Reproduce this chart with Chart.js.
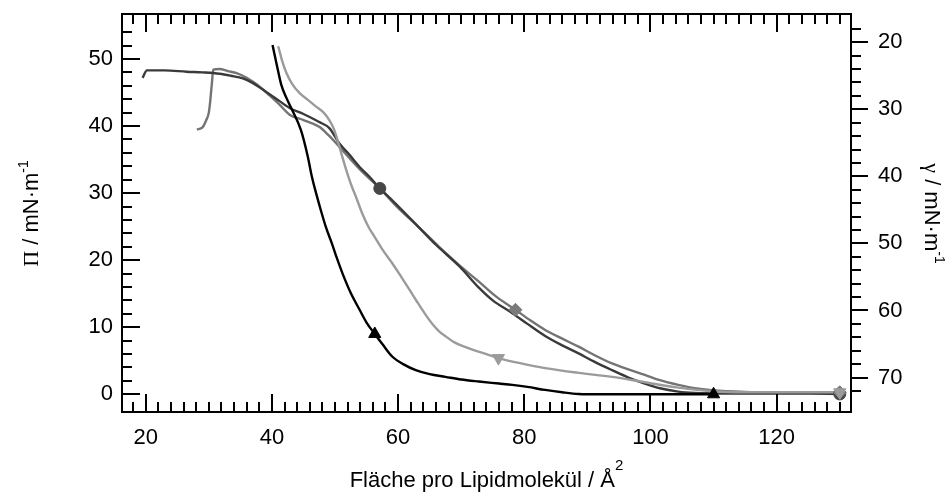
<!DOCTYPE html>
<html>
<head>
<meta charset="utf-8">
<script src="https://cdn.jsdelivr.net/npm/chart.js@4.4.1/dist/chart.umd.min.js"></script>
<style>
  html, body { margin: 0; padding: 0; background: #fff; }
  #wrap { width: 952px; height: 497px; }
</style>
</head>
<body>
<div id="wrap"><canvas id="iso" width="952" height="497"></canvas></div>
<script>
// Pi-A isotherms of four lipid films, surface tension on the right axis
const GAMMA0 = 72.5;               // gamma = GAMMA0 - Pi
const X_MIN = 16.24, X_MAX = 131.78;
const PI_MIN = -2.64, PI_MAX = 56.71;

const xTicks = [20, 40, 60, 80, 100, 120];
const piTicks = [0, 10, 20, 30, 40, 50];
const gammaTicks = [20, 30, 40, 50, 60, 70];

// black, triangle up
const areaA = [40.1, 40.8, 41.5, 42.3, 43.1, 44.6, 45.7, 46.3, 47.0, 47.8, 48.6, 49.5, 50.3, 51.2, 52.5, 53.9, 55.0, 56.3, 57.5, 59.1, 60.8, 62.8, 65.0, 67.5, 70.0, 72.8, 76.0, 78.1, 80.5, 83.3, 86.0, 88.6, 92.0, 96.0, 100.0, 105.0, 110.0];
const piA   = [52.1, 49.0, 46.1, 44.2, 42.6, 39.4, 35.4, 32.6, 30.0, 27.3, 24.8, 22.5, 20.3, 18.0, 15.1, 12.6, 10.7, 9.0, 7.5, 5.6, 4.5, 3.6, 3.0, 2.6, 2.2, 1.9, 1.6, 1.4, 1.1, 0.65, 0.3, 0.05, 0.0, 0.0, 0.0, 0.0, 0.0];
const markA = [[56.3, 9.0], [110.0, 0.0]];

// light grey, triangle down
const areaB = [41.0, 41.6, 42.3, 43.2, 44.4, 45.7, 47.0, 48.2, 49.1, 49.8, 50.4, 51.1, 51.8, 52.5, 53.3, 54.3, 55.4, 56.2, 57.5, 59.1, 60.5, 61.8, 63.0, 64.4, 65.5, 66.5, 67.6, 69.0, 70.5, 72.0, 74.0, 75.9, 79.5, 83.3, 88.6, 93.9, 99.1, 104.4, 109.7, 115.0, 120.0, 125.0, 130.0];
const piB   = [51.9, 49.8, 47.9, 46.3, 44.9, 43.9, 42.9, 42.0, 40.9, 39.6, 37.9, 35.6, 33.4, 31.4, 29.5, 27.0, 24.8, 23.6, 21.6, 19.5, 17.5, 15.6, 13.8, 11.8, 10.4, 9.4, 8.6, 7.7, 7.1, 6.6, 6.0, 5.4, 4.6, 3.9, 3.2, 2.6, 1.8, 1.0, 0.45, 0.3, 0.3, 0.3, 0.3];
const markB = [[75.9, 5.4], [130.0, 0.3]];

// dark grey, circle
const areaC = [19.5, 20.2, 23.0, 26.5, 29.0, 31.7, 33.5, 35.4, 37.0, 38.6, 40.5, 42.8, 45.0, 47.5, 49.1, 50.7, 52.3, 53.9, 55.5, 57.1, 59.0, 61.0, 63.3, 66.0, 69.7, 72.8, 75.0, 78.1, 80.5, 83.3, 86.0, 88.6, 91.0, 93.9, 96.5, 99.1, 101.5, 104.4, 107.0, 109.7, 115.0, 120.0, 125.0, 130.0];
const piC   = [47.2, 48.3, 48.3, 48.1, 48.0, 47.8, 47.5, 47.1, 46.4, 45.4, 44.2, 42.7, 41.8, 40.6, 39.7, 37.4, 35.7, 33.9, 32.4, 30.7, 29.0, 27.1, 24.9, 22.3, 19.1, 15.9, 14.0, 12.1, 10.5, 8.7, 7.3, 6.1, 4.9, 3.6, 2.5, 1.6, 0.9, 0.4, 0.2, 0.15, 0.1, 0.1, 0.1, 0.05];
const markC = [[57.1, 30.7], [130.0, 0.05]];

// medium grey, diamond
const areaD = [28.1, 29.0, 29.6, 30.0, 30.2, 30.5, 30.7, 31.7, 33.0, 34.4, 36.0, 37.0, 38.3, 39.6, 41.2, 42.8, 45.0, 47.5, 49.0, 50.7, 52.5, 54.5, 57.1, 60.0, 63.3, 66.5, 70.0, 72.8, 75.5, 78.6, 81.0, 83.3, 86.0, 88.6, 91.0, 93.9, 96.5, 99.1, 101.5, 104.4, 107.0, 109.7, 115.0, 120.0, 125.0, 130.0];
const piD   = [39.5, 39.8, 40.9, 42.0, 43.5, 46.5, 48.4, 48.5, 48.2, 47.9, 47.2, 46.6, 45.7, 44.6, 43.2, 41.7, 40.9, 39.9, 38.6, 36.9, 35.0, 33.0, 30.7, 27.8, 24.9, 22.0, 19.0, 16.8, 14.6, 12.6, 11.0, 9.6, 8.3, 7.1, 5.9, 4.6, 3.7, 2.9, 2.1, 1.4, 0.9, 0.6, 0.35, 0.3, 0.3, 0.3];
const markD = [[78.6, 12.6], [130.0, 0.3]];

const SANS = '"Liberation Sans", Arial, Helvetica, sans-serif';
const SERIF = '"Liberation Serif", "Times New Roman", serif';

const toPts = (xs, ys) => xs.map((x, i) => ({ x: x, y: ys[i] }));
const markPts = m => m.map(p => ({ x: p[0], y: p[1] }));

function curve(xs, ys, color, order) {
  return {
    data: toPts(xs, ys), showLine: true, borderColor: color, borderWidth: 2.4,
    pointRadius: 0, cubicInterpolationMode: 'monotone', order: order
  };
}
function marks(m, color, style, rot, r) {
  return {
    data: markPts(m), showLine: false, pointStyle: style, rotation: rot,
    pointRadius: r, backgroundColor: color, borderColor: color, borderWidth: 1, order: 0
  };
}

// draw a piece of text made of parts with their own font / raise
function drawRich(ctx, parts, cx, cy, angle) {
  ctx.save();
  ctx.translate(cx, cy);
  ctx.rotate(angle);
  ctx.textBaseline = 'alphabetic';
  ctx.textAlign = 'left';
  ctx.fillStyle = '#000';
  let w = 0;
  parts.forEach(p => { ctx.font = p.font; p.w = ctx.measureText(p.t).width; w += p.w; });
  let x = -w / 2;
  parts.forEach(p => { ctx.font = p.font; ctx.fillText(p.t, x, -(p.rise || 0)); x += p.w; });
  ctx.restore();
}

// keep the plot box where it is: no extra room for half labels
function fixBox(s, key, size) {
  s[key] = size;
  s.paddingTop = 0; s.paddingBottom = 0; s.paddingLeft = 0; s.paddingRight = 0;
}

// frame, inward ticks (outward on the gamma axis) and axis titles
const framePlugin = {
  id: 'frame',
  afterDraw(chart) {
    const { ctx, chartArea: a, scales } = chart;
    ctx.save();
    ctx.strokeStyle = '#000';
    ctx.lineWidth = 2;
    ctx.strokeRect(a.left, a.top, a.right - a.left, a.bottom - a.top);
    ctx.beginPath();
    for (let v = 18; v <= 130; v += 2) {
      const px = Math.round(scales.x.getPixelForValue(v));
      const len = v % 20 === 0 ? 18 : 10;
      ctx.moveTo(px, a.bottom); ctx.lineTo(px, a.bottom - len);
      ctx.moveTo(px, a.top); ctx.lineTo(px, a.top + len);
    }
    for (let v = 0; v <= 54; v += 2) {
      const py = Math.round(scales.y.getPixelForValue(v));
      const len = v % 10 === 0 ? 18 : 10;
      ctx.moveTo(a.left, py); ctx.lineTo(a.left + len, py);
    }
    for (let v = 18; v <= 72; v += 2) {
      const py = Math.round(scales.y2.getPixelForValue(v));
      const len = v % 10 === 0 ? 17 : 10;
      ctx.moveTo(a.right, py); ctx.lineTo(a.right + len, py);
    }
    ctx.stroke();
    ctx.restore();

    const f22 = '22px ' + SANS, s22 = '22px ' + SERIF, f14 = '14px ' + SANS;
    drawRich(ctx, [{ t: 'Fläche pro Lipidmolekül / Å', font: f22 }, { t: '2', font: '15px ' + SANS, rise: 17 }],
      (a.left + a.right) / 2, 487, 0);
    drawRich(ctx, [{ t: 'Π', font: s22 }, { t: ' / mN·m', font: f22 }, { t: '-1', font: f14, rise: 10 }],
      37.5, 213.5, -Math.PI / 2);
    drawRich(ctx, [{ t: 'γ', font: s22 }, { t: ' / mN·m', font: f22 }, { t: '-1', font: f14, rise: 10 }],
      925, 213.5, Math.PI / 2);
  }
};

const tickFont = { family: SANS, size: 22 };

new Chart(document.getElementById('iso'), {
  type: 'scatter',
  data: {
    datasets: [
      curve(areaA, piA, '#000000', 1),
      curve(areaB, piB, '#9b9b9b', 2),
      curve(areaC, piC, '#3a3a3a', 3),
      curve(areaD, piD, '#747474', 4),
      marks(markA, '#000000', 'triangle', 0, 7),
      marks(markB, '#9b9b9b', 'triangle', 180, 7),
      marks(markD, '#7a7a7a', 'rectRot', 0, 6.5),
      marks(markC, '#474747', 'circle', 0, 6)
    ]
  },
  options: {
    responsive: false,
    animation: false,
    layout: { padding: { top: 14, left: 0, right: 0, bottom: 0 } },
    plugins: { legend: { display: false }, tooltip: { enabled: false } },
    scales: {
      x: {
        type: 'linear', position: 'bottom', min: X_MIN, max: X_MAX,
        afterBuildTicks: s => { s.ticks = xTicks.map(v => ({ value: v })); },
        afterFit: s => fixBox(s, 'height', 85),
        grid: { display: false, drawTicks: false },
        border: { display: false },
        ticks: { color: '#000', font: tickFont, padding: 13, maxRotation: 0, autoSkip: false }
      },
      y: {
        type: 'linear', position: 'left', min: PI_MIN, max: PI_MAX,
        afterBuildTicks: s => { s.ticks = piTicks.map(v => ({ value: v })); },
        afterFit: s => fixBox(s, 'width', 122),
        grid: { display: false, drawTicks: false },
        border: { display: false },
        ticks: { color: '#000', font: tickFont, padding: 9, autoSkip: false }
      },
      y2: {
        type: 'linear', position: 'right', reverse: true,
        min: GAMMA0 - PI_MAX, max: GAMMA0 - PI_MIN,
        afterBuildTicks: s => { s.ticks = gammaTicks.map(v => ({ value: v })); },
        afterFit: s => fixBox(s, 'width', 101),
        grid: { display: false, drawTicks: false },
        border: { display: false },
        ticks: { color: '#000', font: tickFont, padding: 27, autoSkip: false }
      }
    }
  },
  plugins: [framePlugin]
});
</script>
</body>
</html>
